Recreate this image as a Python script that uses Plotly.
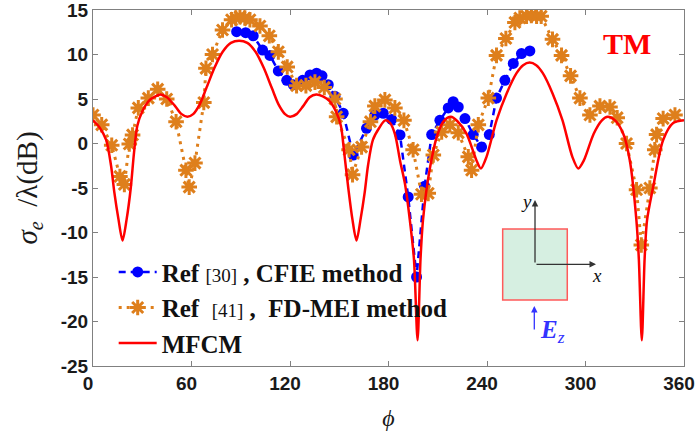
import plotly.graph_objects as go

# ---------------- data ----------------
mfcm_phi = [0, 4, 8, 11, 13, 15.5, 18, 20.5, 23, 25, 27, 30, 34, 38, 41, 45, 50, 54, 57.5, 61, 65, 69,
            74, 79, 84, 89, 94, 99, 104, 109, 113, 117, 120, 124, 128, 132, 136, 140, 144, 148, 151,
            153, 155.5, 158, 160.5, 163, 165.5, 167.5, 170.5, 174.5, 178, 181, 184, 187, 190, 193,
            195.5, 197.7, 199.5, 201, 205, 210, 214, 218, 222, 227.5, 233.6, 236.3, 239.7, 245.8,
            251.9, 258, 262, 266, 270, 274, 280, 286, 292, 295.6, 299, 305, 310, 313.5, 318, 323,
            327, 331, 332.5, 334.3, 336, 337.5, 341.2, 347.3, 353.4, 360]
mfcm_val = [2.6, 1.8, 0.4, -2.5, -5.5, -8.5, -10.9, -8.5, -5.0, -1.0, 2.0, 3.6, 4.8, 5.3, 5.5, 5.2, 4.2,
            3.3, 3.0, 3.3, 4.4, 6.2, 8.5, 10.3, 11.3, 11.55, 11.3, 10.3, 8.5, 6.2, 4.4, 3.3, 3.0, 3.3,
            4.2, 5.2, 5.5, 5.3, 4.8, 3.6, 2.0, -1.0, -5.0, -8.5, -10.9, -8.5, -5.5, -2.5, 0.4, 1.8, 2.6,
            2.3, 1.0, -1.9, -4.5, -8.6, -13.0, -22.1, -13.0, -8.6, -3.0, 1.1, 2.6, 3.0, 2.5, 1.1, -1.9,
            -2.8, -1.5, 2.6, 5.6, 7.9, 8.8, 9.1, 8.8, 7.9, 5.6, 2.6, -1.5, -2.8, -1.9, 1.1, 2.6, 3.0,
            2.6, 1.1, -1.9, -8.6, -13.0, -22.1, -13.0, -8.6, -4.9, 0.4, 2.3, 2.6]

cfie_phi = [87.5, 93, 97.6, 103.3, 107.8, 112.9, 118, 122, 127.7, 132.2, 136.2, 139.5, 143.3, 147.4,
            152.4, 158.5, 166.6, 171.7, 176.8, 181.9, 187, 192, 197.1, 202, 206.3, 211.3, 216.4,
            219.4, 222.5, 226.6, 231.6, 236.7, 241.4, 245.8, 250.9, 256, 261, 266.1]
cfie_val = [12.56, 12.45, 12.1, 10.5, 9.9, 8.15, 7.1, 6.6, 7.1, 7.7, 7.9, 7.6, 6.6, 5.3, 3.4, -1.3, 1.7,
            3.2, 3.4, 2.7, 0.96, -6.0, -15.0, -4.8, 1.0, 2.6, 4.0, 4.7, 4.1, 2.8, 1.0, -0.4, 1.0, 5.1,
            7.1, 9.0, 10.1, 10.4]

fdmei_phi = [0, 5.3, 11.4, 16.4, 19.1, 22.1, 24.1, 27.6, 33.7, 39.4, 44.9, 50.6, 56.6, 58.6, 62.1,
             67.5, 68.8, 72.8, 78.9, 84.4, 87, 89.5, 92.5, 95.6, 101.7, 107.4, 112.9, 118.3, 124,
             129.7, 135.2, 140.9, 147.4, 148.4, 156, 158.1, 163.6, 169, 171.7, 177.8, 183.9, 189.4,
             195, 200.1, 204.2, 207.3, 212.4, 217.4, 222.5, 228.6, 230.6, 234.7, 240.8, 245.8, 251.5,
             257, 260, 264.1, 267, 270.2, 273, 279.9, 285.4, 290.9, 296.6, 302.7, 308.8, 314.9,
             319.3, 325, 331.1, 334, 339.2, 342.2, 343.3, 347.3, 354.5]
fdmei_val = [3.2, 2.1, -0.2, -3.7, -4.6, -0.06, 0.96, 4.0, 5.1, 6.1, 5.0, 2.45, -3.0, -4.9, -2.2, 4.6,
             8.45, 10.0, 12.75, 13.9, 14.1, 14.25, 14.1, 13.9, 13.2, 12.1, 10.3, 8.6, 6.5, 6.5, 6.9,
             6.3, 5.0, 3.0, -0.7, -3.5, -0.4, 2.45, 4.2, 4.9, 4.0, 2.6, -0.7, -5.7, -5.6, -1.3, 1.3,
             2.1, 1.2, -1.5, -3.0, 2.1, 5.1, 9.9, 11.8, 13.6, 14.1, 14.3, 14.4, 14.3, 14.3, 11.7, 9.9,
             7.6, 5.1, 3.2, 4.2, 4.1, 2.9, 0.0, -5.2, -11.4, -5.0, -0.7, 1.0, 2.8, 3.2]

x_ticks = [0, 60, 120, 180, 240, 300, 360]
y_ticks = [-25, -20, -15, -10, -5, 0, 5, 10, 15]

REF_STYLE = "font-size:19px;font-weight:normal"
name_cfie = f"Ref <span style='{REF_STYLE}'>[30]</span> , CFIE method"
name_fdmei = f"Ref  <span style='{REF_STYLE}'>[41]</span> ,  FD-MEI method"
name_mfcm = "MFCM"

ORANGE = "#DE7F1C"

fig = go.Figure()
fig.add_trace(go.Scatter(
    x=cfie_phi, y=cfie_val, name=name_cfie, mode="lines+markers",
    line=dict(color="#0000FF", width=2.5, dash="7px,5px"),
    marker=dict(symbol="circle", size=11, color="#0000FF")))
fig.add_trace(go.Scatter(
    x=fdmei_phi, y=fdmei_val, name=name_fdmei, mode="lines+markers",
    line=dict(color=ORANGE, width=3, dash="3px,5px"),
    marker=dict(symbol="asterisk", size=13, color=ORANGE, line=dict(color=ORANGE, width=3))))
fig.add_trace(go.Scatter(
    x=mfcm_phi, y=mfcm_val, name=name_mfcm, mode="lines",
    line=dict(color="#FF0000", width=2.5, shape="spline", smoothing=0.8)))

axis_common = dict(showline=True, mirror="ticks", linecolor="#808080", linewidth=1,
                   ticks="inside", ticklen=5, tickcolor="#808080", showgrid=False,
                   zeroline=False, ticklabeloverflow="allow", automargin=False,
                   tickfont=dict(family="Liberation Sans, Arial", size=19, color="#1a1a1a",
                                 weight="bold"))

fig.update_xaxes(range=[0, 360], tickvals=x_ticks, ticktext=[str(v) for v in x_ticks],
                 ticklabelshift=-5,
                 title=dict(text="<i>ϕ</i>", font=dict(family="Liberation Serif", size=24,
                                                        color="#1a1a1a"), standoff=16),
                 **axis_common)
fig.update_yaxes(range=[-25, 15], tickvals=y_ticks, ticktext=[str(v) for v in y_ticks],
                 title=dict(text="\u00a0<i>σ</i><sub><i>e</i></sub>\u00a0\u00a0/λ(dB)",
                            font=dict(family="Liberation Serif", size=29, color="#1a1a1a"),
                            standoff=14),
                 **axis_common)

C = dict(xanchor="center", yanchor="middle", xref="paper", yref="paper")

# TM label
fig.add_annotation(x=0.903, y=0.907, text="<b>TM</b>", showarrow=False,
                   font=dict(family="Liberation Serif", size=30, color="#FF0000"), **C)

# inset diagram (square cylinder with axes and incident field)
fig.add_shape(type="rect", xref="paper", yref="paper", x0=0.6932, x1=0.8025, y0=0.1854, y1=0.3848,
              fillcolor="#d6efe1", line=dict(color="#ff5a5a", width=1.5), layer="above")
fig.add_annotation(x=0.7479, y=0.4663, ax=0, ay=64, axref="pixel", ayref="pixel", showarrow=True,
                   arrowhead=2, arrowsize=1, arrowwidth=1.3, arrowcolor="#333333", text="", **C)
fig.add_annotation(x=0.8511, y=0.2857, ax=-61, ay=0, axref="pixel", ayref="pixel", showarrow=True,
                   arrowhead=2, arrowsize=1, arrowwidth=1.3, arrowcolor="#333333", text="", **C)
fig.add_annotation(x=0.7338, y=0.4615, text="<i>y</i>", showarrow=False,
                   font=dict(family="Liberation Serif", size=19, color="#111111"), **C)
fig.add_annotation(x=0.8523, y=0.2556, text="<i>x</i>", showarrow=False,
                   font=dict(family="Liberation Serif", size=19, color="#111111"), **C)
fig.add_annotation(x=0.7467, y=0.1685, ax=0, ay=25, axref="pixel", ayref="pixel", showarrow=True,
                   arrowhead=2, arrowsize=1, arrowwidth=1.3, arrowcolor="#3333ff", text="", **C)
fig.add_annotation(x=0.7775, y=0.0963, text="<b><i>E</i></b><sub><i>z</i></sub>", showarrow=False,
                   font=dict(family="Liberation Serif", size=25, color="#3333ff"), **C)

fig.update_layout(
    width=696, height=440,
    margin=dict(l=93, r=12, t=10, b=74, autoexpand=False),
    paper_bgcolor="white", plot_bgcolor="white",
    showlegend=True,
    legend=dict(x=0.035, y=0.328, xanchor="left", yanchor="top", bgcolor="rgba(0,0,0,0)",
                font=dict(family="Liberation Serif", size=25, color="#111111", weight="bold"),
                itemwidth=38, tracegroupgap=0),
)

fig.write_html("out.html", config={"displayModeBar": False},
               post_script="document.body.style.margin='0';")
